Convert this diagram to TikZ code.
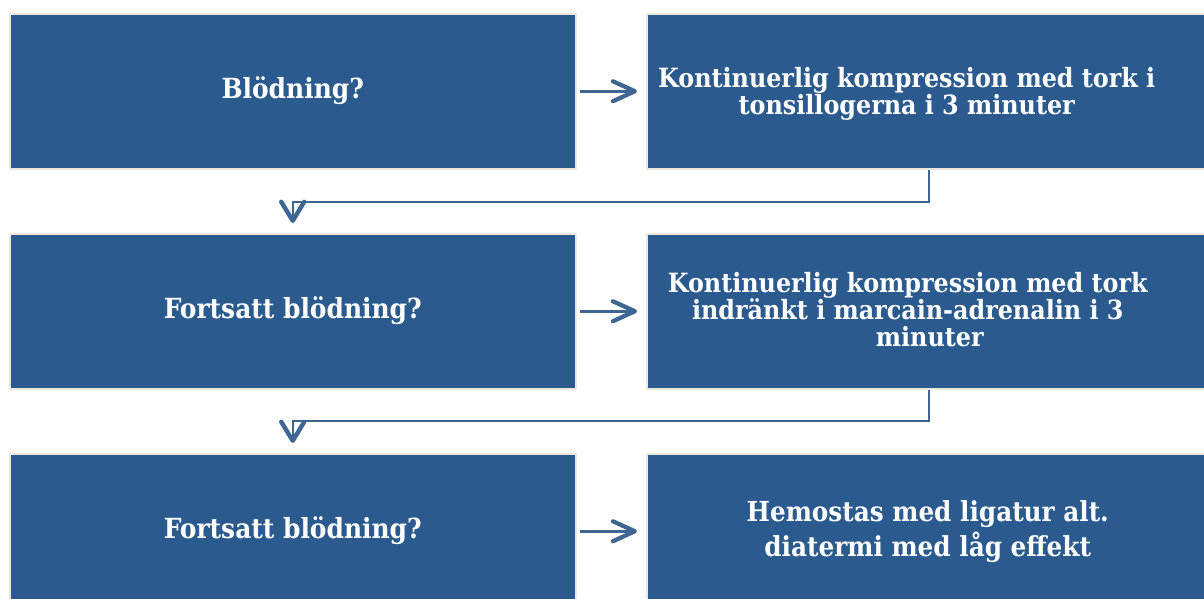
\documentclass[tikz,border=0pt]{standalone}
\usepackage{fontspec}
\setmainfont{DejaVu Serif Condensed}
\usetikzlibrary{arrows.meta}
\definecolor{boxblue}{HTML}{2B5B8E}
\definecolor{arrowblue}{HTML}{3F6593}
\definecolor{boxedge}{HTML}{ECE8DD}
\begin{document}
\begin{tikzpicture}[x=1pt,y=-1pt,
  box/.style={draw=boxedge, line width=1.5pt, fill=boxblue, inner sep=0pt,
    anchor=north west, minimum width=566pt, minimum height=155pt},
  rbox/.style={box, minimum width=564pt},
  txt/.style={text=white, font=\bfseries\fontsize{27.7}{27}\selectfont, align=center, inner sep=0pt},
  rtxt/.style={txt, font=\bfseries\fontsize{26.5}{27}\selectfont},
  rarrow/.style={draw=arrowblue, line width=2.5pt,
    -{Straight Barb[length=22pt, width=20pt, line width=0pt 1.7, round]},
    shorten <=3pt, shorten >=9pt},
  darrow/.style={draw=arrowblue, line width=2pt,
    -{Straight Barb[length=19pt, width=23pt, line width=0pt 2.2, round]},
    shorten >=10pt}
]
\useasboundingbox (0,0) rectangle (1204,598);
\fill[white] (0,0) rectangle (1204,598);

\node[box]  (a1) at (9,13)  {};
\node[rbox] (b1) at (646,13) {};
\node[box]  (a2) at (9,233) {};
\node[rbox] (b2) at (646,233) {};
\node[box]  (a3) at (9,453) {};
\node[rbox] (b3) at (646,453) {};

\node[txt] (ta1) at ([yshift=1pt]a1.center) {Blödning?};
\node[txt] (ta2) at ([yshift=1pt]a2.center) {Fortsatt blödning?};
\node[txt] (ta3) at ([yshift=1pt]a3.center) {Fortsatt blödning?};
\node[rtxt] (tb1) at ([xshift=-22pt,yshift=-3pt]b1.center) {Kontinuerlig kompression med tork i\\tonsillogerna i 3 minuter};
\node[rtxt] (tb2) at ([xshift=-21pt,yshift=2pt]b2.center) {Kontinuerlig kompression med tork\\indränkt i marcain-adrenalin i 3\\\hspace*{44pt}minuter};
\node[txt, font=\bfseries\fontsize{27.5}{35}\selectfont] (tb3) at ([xshift=-1pt]b3.center) {Hemostas med ligatur alt.\\diatermi med låg effekt};

\draw[rarrow] (a1.east) -- (b1.west);
\draw[rarrow] (a2.east) -- (b2.west);
\draw[rarrow] (a3.east) -- (b3.west);

\draw[darrow] (b1.south) -- ++(0,32) -| (a2.north);
\draw[darrow] (b2.south) -- ++(0,31) -| (a3.north);
\end{tikzpicture}
\end{document}
